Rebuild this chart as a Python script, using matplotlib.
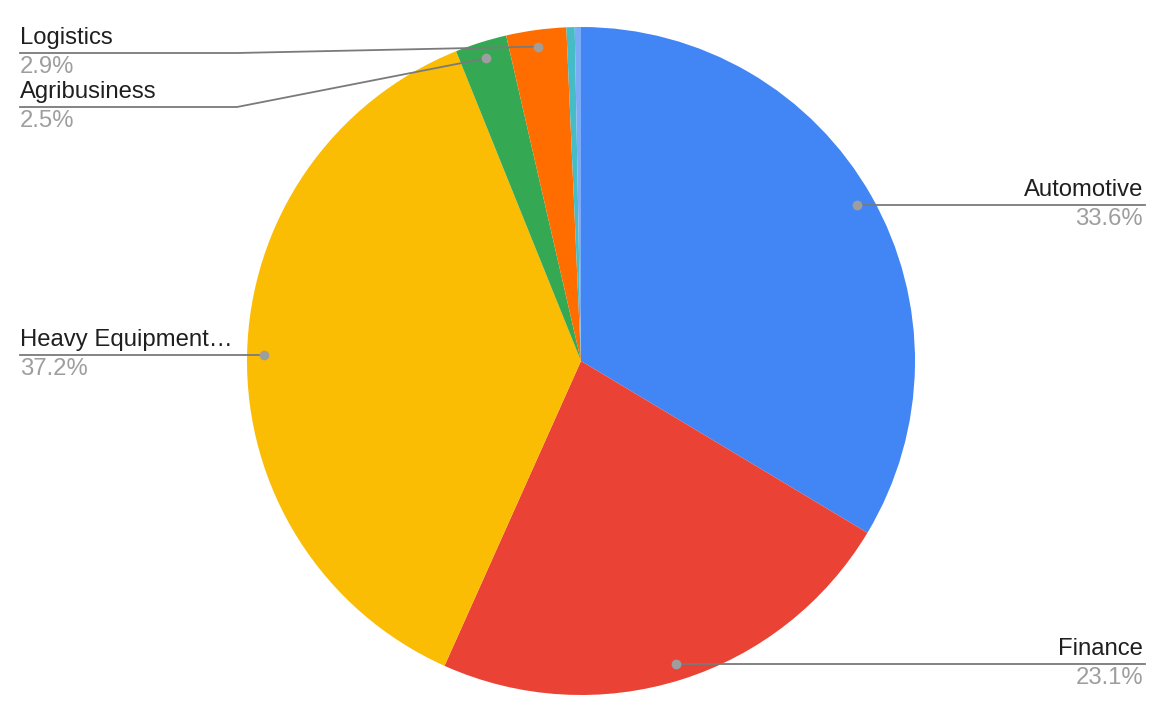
import numpy as np
import matplotlib
matplotlib.use('Agg')
import matplotlib.pyplot as plt

plt.rcParams['font.family'] = ['Liberation Sans', 'DejaVu Sans']

names = ['Automotive', 'Finance', 'Heavy Equipment\u2026', 'Agribusiness', 'Logistics', 'Other 1', 'Other 2']
values = [33.6, 23.1, 37.2, 2.5, 2.9, 0.4, 0.3]
colors = ['#4285F4', '#EA4335', '#FBBC04', '#34A853', '#FF6D01', '#46BDC6', '#7BAAF7']
shown = [True, True, True, True, True, False, False]

W, H = 1172, 718
cx, cy, R = 581, 361, 334

fig = plt.figure(figsize=(W/100., H/100.), dpi=100)
ax = fig.add_axes([0, 0, 1, 1])

ax.pie(values, colors=colors, startangle=90, counterclock=False,
       center=(cx, H-cy), radius=R, frame=True)
ax.set_xlim(0, W)
ax.set_ylim(0, H)
ax.axis('off')

tot = float(sum(values))
cum = np.cumsum([0]+values)[:-1]
# label row y (pixels from top) for the two small left labels
left_rows = {'Logistics': 53, 'Agribusiness': 107}

for i, n in enumerate(names):
    if not shown[i]:
        continue
    mid = (cum[i] + values[i]/2.)/tot*2*np.pi
    ax_x = cx + 0.95*R*np.sin(mid)
    ax_y = cy - 0.95*R*np.cos(mid)
    pct = '%.1f%%' % (values[i]/tot*100)
    if ax_x > cx:
        ly = ax_y
        ax.plot([ax_x, 1145], [H-ly, H-ly], color='#7a7a7a', lw=1.3, zorder=3)
        tx, ha = 1143, 'right'
    else:
        ly = left_rows.get(n, ax_y)
        ax.plot([20, 237, ax_x], [H-ly, H-ly, H-ax_y], color='#7a7a7a', lw=1.3, zorder=3)
        tx, ha = 20, 'left'
    ax.plot(ax_x, H-ax_y, 'o', color='#9e9e9e', ms=6, zorder=4)
    ax.text(tx, H-ly+4, n, ha=ha, va='bottom', fontsize=17.2, color='#1f1f1f')
    ax.text(tx, H-ly-3, pct, ha=ha, va='top', fontsize=17.2, color='#9e9e9e')

plt.savefig('out.png', dpi=100)
